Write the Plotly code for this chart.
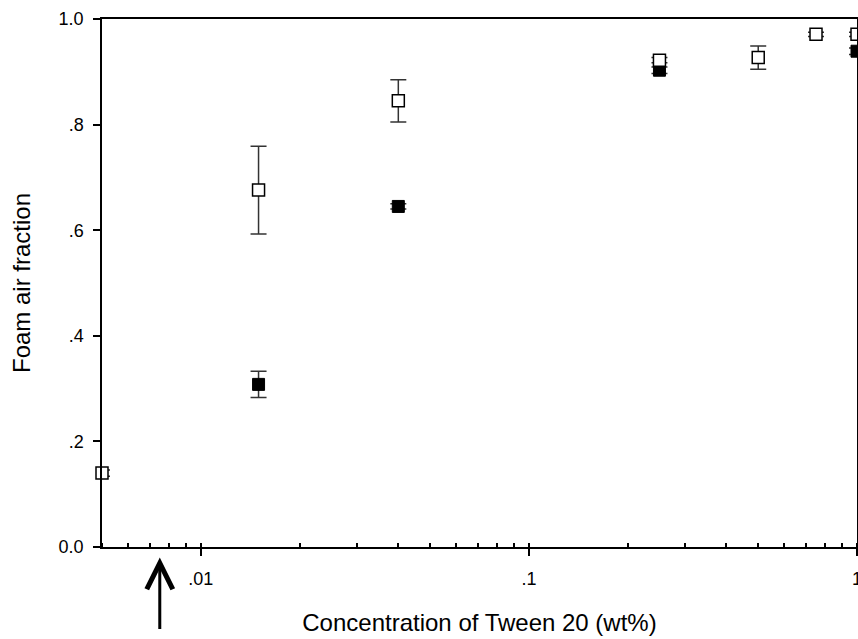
import math
import plotly.graph_objects as go

# Data
conc_open = [0.005, 0.015, 0.04, 0.25, 0.5, 0.75, 1.0]
air_open = [0.140, 0.676, 0.845, 0.922, 0.927, 0.971, 0.971]
err_open = [0.006, 0.083, 0.040, 0.005, 0.022, 0.004, 0.004]

conc_filled = [0.015, 0.04, 0.25, 1.0]
air_filled = [0.308, 0.645, 0.903, 0.939]
err_filled = [0.025, 0.005, 0.006, 0.006]

cmc = 0.0075  # arrow marker on the concentration axis

x_tickvals = [0.01, 0.1, 1]
x_ticktext = [".01", ".1", "1"]
y_tickvals = [0.0, 0.2, 0.4, 0.6, 0.8, 1.0]
y_ticktext = ["0.0", ".2", ".4", ".6", ".8", "1.0"]

FONT = "Arial, 'Liberation Sans', sans-serif"
ERRC = "#333333"

fig = go.Figure()

fig.add_trace(go.Scatter(
    x=conc_filled, y=air_filled, mode="markers",
    marker=dict(symbol="square", size=12, color="black",
                line=dict(color="black", width=1)),
    error_y=dict(type="data", array=err_filled, visible=True,
                 color=ERRC, thickness=1.5, width=8),
    cliponaxis=False, showlegend=False,
))
fig.add_trace(go.Scatter(
    x=conc_open, y=air_open, mode="markers",
    marker=dict(symbol="square", size=12, color="white",
                line=dict(color="black", width=1.5)),
    error_y=dict(type="data", array=err_open, visible=True,
                 color=ERRC, thickness=1.5, width=8),
    cliponaxis=False, showlegend=False,
))

fig.add_annotation(
    x=math.log10(cmc), y=-0.02, xref="x", yref="paper",
    ax=0, ay=73, axref="pixel", ayref="pixel",
    showarrow=True, arrowhead=5, arrowsize=1.7, arrowwidth=3,
    arrowcolor="black", text="",
)

fig.update_layout(
    width=858, height=639,
    margin=dict(l=102, r=1, t=19, b=92),
    paper_bgcolor="white", plot_bgcolor="white",
    font=dict(family=FONT, size=18, color="black"),
    xaxis=dict(
        type="log", range=[math.log10(0.005), 0.0],
        tickvals=x_tickvals, ticktext=x_ticktext,
        ticks="outside", ticklen=7, tickwidth=1.5, tickcolor="black",
        minor=dict(ticks="inside", ticklen=4, tickwidth=1.5, tickcolor="black",
                   dtick="D1", showgrid=False),
        showline=True, linecolor="black", linewidth=1.5, mirror=True,
        showgrid=False, zeroline=False, automargin=False,
        ticklabelstandoff=8, ticklabeloverflow="allow",
        title=dict(text="Concentration of Tween 20 (wt%)",
                   font=dict(size=24), standoff=26),
    ),
    yaxis=dict(
        range=[0, 1.0],
        tickvals=y_tickvals, ticktext=y_ticktext,
        ticks="outside", ticklen=7, tickwidth=1.5, tickcolor="black",
        showline=True, linecolor="black", linewidth=1.5, mirror=True,
        showgrid=False, zeroline=False, automargin=False,
        ticklabelstandoff=6,
        title=dict(text="Foam air fraction", font=dict(size=24), standoff=21),
    ),
)

fig.write_html(
    "out.html",
    config={"displayModeBar": False},
    post_script="document.body.style.margin='0';document.body.style.overflow='hidden';",
)
